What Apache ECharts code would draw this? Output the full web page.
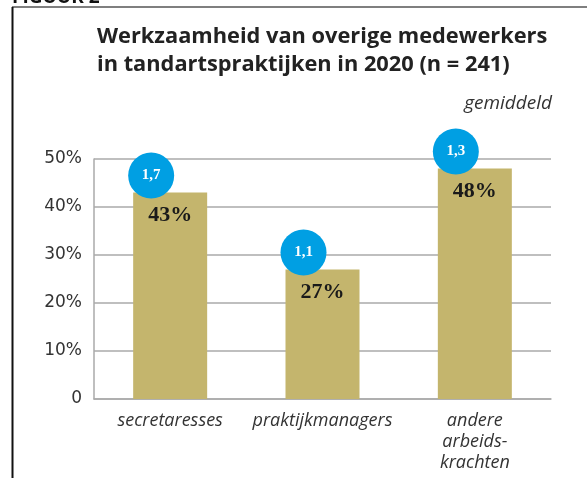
<!DOCTYPE html>
<html><head><meta charset="utf-8">
<script src="https://cdn.jsdelivr.net/npm/echarts@6/dist/echarts.min.js"></script>
<style>html,body{margin:0;padding:0;background:#fff}#c{width:587px;height:478px}</style>
</head><body><div id="c"></div>
<script>
const categories = ['secretaresses', 'praktijkmanagers', 'andere\narbeids-\nkrachten'];
const percentages = [43, 27, 48];
const averages = ['1,7', '1,1', '1,3'];
const yTicks = [0, 10, 20, 30, 40, 50];

const chart = echarts.init(document.getElementById('c'));
chart.setOption({
  animation: false,
  backgroundColor: '#fff',
  graphic: [
    { type: 'text', left: 12, top: -12, style: { text: 'FIGUUR 2', font: 'bold 19px "Open Sans"', fill: '#111' } },
    { type: 'line', shape: { x1: 12, y1: 7, x2: 587, y2: 7 }, style: { stroke: '#555', lineWidth: 1.5 } },
    { type: 'line', shape: { x1: 12.5, y1: 7, x2: 12.5, y2: 478 }, style: { stroke: '#111', lineWidth: 2 } },
    { type: 'text', left: 97, top: 23, style: { text: 'Werkzaamheid van overige medewerkers\nin tandartspraktijken in 2020 (n = 241)', font: 'bold 21.8px "Open Sans"', lineHeight: 28, fill: '#222' } },
    { type: 'text', right: 35, top: 94, style: { text: 'gemiddeld', font: 'italic 19px "Open Sans"', fill: '#333' } }
  ],
  grid: { left: 94, right: 36, top: 159, bottom: 79 },
  xAxis: {
    type: 'category', data: categories,
    axisLine: { lineStyle: { color: '#aaa', width: 1.5 } },
    axisTick: { show: true, inside: true, length: 7, lineStyle: { color: '#aaa', width: 1.5 }, interval: (i) => i === 3 },
    axisLabel: { interval: 0, hideOverlap: false, color: '#333', fontFamily: 'Open Sans', fontStyle: 'italic', fontSize: 18, lineHeight: 21, margin: 11 }
  },
  yAxis: {
    type: 'value', min: 0, max: 50, interval: 10,
    axisLine: { show: true, lineStyle: { color: '#aaa', width: 1.5 } },
    axisTick: { show: false },
    splitLine: { lineStyle: { color: '#aaa', width: 1.5 } },
    axisLabel: { color: '#333', fontFamily: 'DejaVu Sans', fontSize: 17, margin: 12,
      formatter: (v) => yTicks.includes(v) ? (v === 0 ? '0' : v + '%') : '' }
  },
  series: [
    {
      type: 'bar', data: percentages, barWidth: 74,
      itemStyle: { color: '#c4b56d' },
      label: { show: true, position: 'insideTop', distance: 12, formatter: '{c}%', color: '#1a1a1a',
        fontFamily: 'Liberation Serif', fontWeight: 'bold', fontSize: 22 }
    },
    {
      type: 'scatter', data: percentages, symbol: 'circle', symbolSize: 46, symbolOffset: [-19, -17],
      itemStyle: { color: '#009fe3', opacity: 1 }, z: 5,
      label: { show: true, position: 'inside', formatter: (p) => averages[p.dataIndex],
        color: '#fff', fontFamily: 'Liberation Serif', fontWeight: 'bold', fontSize: 15 }
    }
  ]
});
</script></body></html>
